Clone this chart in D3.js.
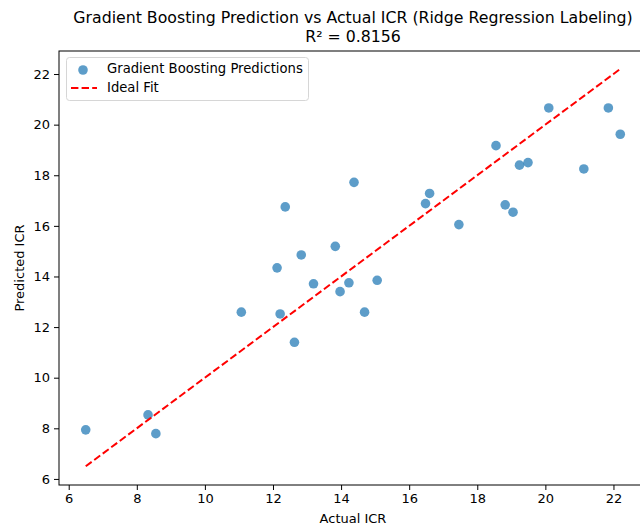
<!DOCTYPE html>
<html>
<head>
<meta charset="utf-8">
<script src="https://cdn.jsdelivr.net/npm/d3@7"></script>
<style>
  html, body { margin: 0; padding: 0; background: #fff; }
  svg { display: block; font-family: "DejaVu Sans", sans-serif; }
</style>
</head>
<body>
<svg id="chart" width="640" height="530"></svg>
<script>
// Actual vs predicted ICR for each test sample
const actualICR = [6.5, 8.33, 8.56, 11.07, 12.12, 12.21, 12.36, 12.63, 12.83, 13.19,
  13.83, 13.97, 14.23, 14.38, 14.69, 15.06, 16.48, 16.6, 17.46, 18.55,
  18.82, 19.05, 19.24, 19.49, 20.1, 21.13, 21.85, 22.2];
const predictedICR = [7.94, 8.53, 7.79, 12.59, 14.34, 12.52, 16.75, 11.4, 14.85, 13.71,
  15.19, 13.4, 13.75, 17.72, 12.59, 13.85, 16.88, 17.28, 16.05, 19.17,
  16.83, 16.54, 18.4, 18.5, 20.66, 18.25, 20.66, 19.62];
const xTicks = [6, 8, 10, 12, 14, 16, 18, 20, 22];
const yTicks = [6, 8, 10, 12, 14, 16, 18, 20, 22];
const xLimits = [5.715, 22.985];
const yLimits = [5.76, 22.91];
const titleLines = ["Gradient Boosting Prediction vs Actual ICR (Ridge Regression Labeling)", "R\u00b2 = 0.8156"];
const legendLabels = ["Gradient Boosting Predictions", "Ideal Fit"];

const svg = d3.select("#chart");
const plot = { left: 59, right: 647, top: 51, bottom: 485 };

const x = d3.scaleLinear().domain(xLimits).range([plot.left, plot.right]);
const y = d3.scaleLinear().domain(yLimits).range([plot.bottom, plot.top]);

// Axes
const xAxis = svg.append("g")
  .attr("transform", `translate(0,${plot.bottom})`)
  .call(d3.axisBottom(x).tickValues(xTicks).tickSize(5).tickPadding(4).tickFormat(d3.format("d")));
const yAxis = svg.append("g")
  .attr("transform", `translate(${plot.left},0)`)
  .call(d3.axisLeft(y).tickValues(yTicks).tickSize(5).tickPadding(4).tickFormat(d3.format("d")));
[xAxis, yAxis].forEach(g => {
  g.select(".domain").remove();
  g.selectAll(".tick line").attr("stroke", "#000").attr("stroke-width", 1);
  g.selectAll(".tick text").attr("fill", "#000").style("font-size", "13px").style("font-family", "DejaVu Sans");
});

// Frame
svg.append("rect")
  .attr("x", plot.left).attr("y", plot.top)
  .attr("width", plot.right - plot.left).attr("height", plot.bottom - plot.top)
  .attr("fill", "none").attr("stroke", "#000").attr("stroke-width", 1);

svg.append("clipPath").attr("id", "clip")
  .append("rect").attr("x", plot.left).attr("y", plot.top)
  .attr("width", plot.right - plot.left).attr("height", plot.bottom - plot.top);

const body = svg.append("g").attr("clip-path", "url(#clip)");

// Scatter points
body.selectAll("circle.pt")
  .data(actualICR.map((a, i) => [a, predictedICR[i]]))
  .join("circle")
  .attr("class", "pt")
  .attr("cx", d => x(d[0]))
  .attr("cy", d => y(d[1]))
  .attr("r", 4.8)
  .attr("fill", "#1f77b4")
  .attr("fill-opacity", 0.72);

// Ideal-fit line y = x
const minA = d3.min(actualICR), maxA = d3.max(actualICR);
body.append("line")
  .attr("x1", x(minA)).attr("y1", y(minA))
  .attr("x2", x(maxA)).attr("y2", y(maxA))
  .attr("stroke", "red").attr("stroke-width", 2)
  .attr("stroke-dasharray", "7.4,3.2");

// Title
svg.append("g").selectAll("text")
  .data(titleLines)
  .join("text")
  .attr("x", (plot.left + plot.right) / 2)
  .attr("y", (d, i) => 23 + i * 19)
  .attr("text-anchor", "middle")
  .style("font-size", "15.75px")
  .attr("fill", "#000")
  .text(d => d);

// Axis labels
svg.append("text")
  .attr("x", (plot.left + plot.right) / 2).attr("y", 523)
  .attr("text-anchor", "middle").style("font-size", "13px")
  .text("Actual ICR");
svg.append("text")
  .attr("transform", `translate(24,${(plot.top + plot.bottom) / 2}) rotate(-90)`)
  .attr("text-anchor", "middle").style("font-size", "13px")
  .text("Predicted ICR");

// Legend
const lg = svg.append("g");
lg.append("rect")
  .attr("x", 66.5).attr("y", 57.5).attr("width", 242).attr("height", 43).attr("rx", 3)
  .attr("fill", "#fff").attr("fill-opacity", 0.8)
  .attr("stroke", "#d6d6d6").attr("stroke-width", 1);
lg.append("circle")
  .attr("cx", 83).attr("cy", 70).attr("r", 4.8)
  .attr("fill", "#1f77b4").attr("fill-opacity", 0.72);
lg.append("line")
  .attr("x1", 71).attr("x2", 97).attr("y1", 88).attr("y2", 88)
  .attr("stroke", "red").attr("stroke-width", 2).attr("stroke-dasharray", "7.4,3.2");
lg.selectAll("text.lbl")
  .data(legendLabels)
  .join("text")
  .attr("class", "lbl")
  .attr("x", 107)
  .attr("y", (d, i) => 72.5 + i * 19.5)
  .style("font-size", "13.2px")
  .text(d => d);
</script>
</body>
</html>
